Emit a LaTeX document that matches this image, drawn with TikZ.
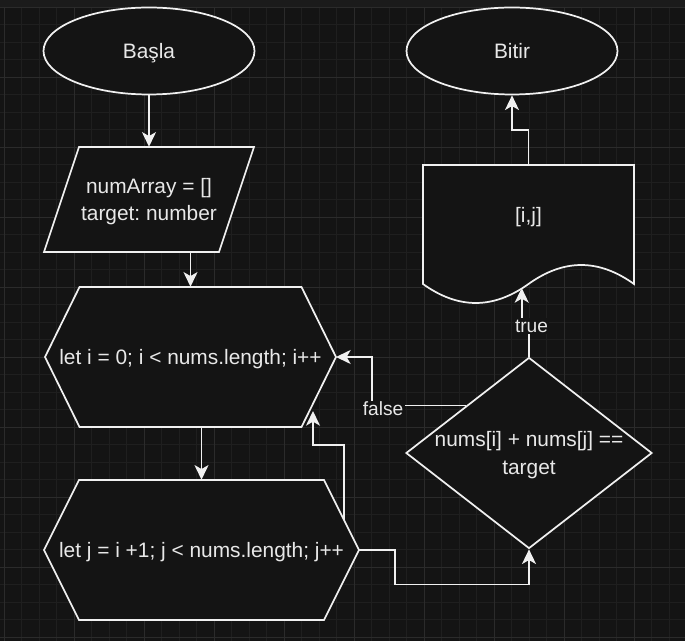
\documentclass[tikz,border=0pt]{standalone}
\usepackage{fontspec}
\setmainfont{Liberation Sans}
\frenchspacing
\usetikzlibrary{arrows.meta,shapes.geometric,calc,backgrounds}
\pgfdeclarelayer{shapes}
\pgfsetlayers{background,shapes,main}
\definecolor{canvas}{HTML}{141414}
\definecolor{ink}{HTML}{F0F0F0}
\definecolor{inktext}{HTML}{E8E8E8}
\definecolor{gridfine}{HTML}{1F1F1F}
\definecolor{gridmajor}{HTML}{2B2B2B}
\definecolor{topbar}{HTML}{1B1B1B}
\newcommand{\mainfs}{\fontsize{15.66pt}{20.5pt}\selectfont}
\newcommand{\lblfs}{\fontsize{14.36pt}{17pt}\selectfont}
\tikzset{
  shapeline/.style={draw=ink, line width=1.3pt, fill=canvas},
  flow/.style={-{Stealth[length=11pt, width=10.5pt, inset=3pt]}, draw=ink, line width=1.3pt},
}

\begin{document}
\begin{tikzpicture}[x=0.75pt, y=-0.75pt,
  term/.style={ellipse, shapeline, minimum width=158.25pt, minimum height=65.25pt,
               inner sep=0pt, text depth=0pt, font=\mainfs, text=inktext},
  body/.style={rectangle, inner sep=0pt, text depth=0pt, align=center, font=\mainfs, text=inktext},
  decision/.style={diamond, shapeline, minimum width=184.5pt, minimum height=143.25pt, inner sep=0pt},
  edgelbl/.style={fill=canvas, inner sep=1pt, font=\lblfs, text=inktext},
]
\useasboundingbox (0,0) rectangle (685,641);
% canvas and grid
\begin{scope}[on background layer]
  \fill[canvas] (0,0) rectangle (685,641);
  \fill[topbar] (0,0) rectangle (685,7.3);
  \foreach \k in {0,...,38} \draw[gridfine, line width=0.6pt] ({4.3+17.5*\k},7.3) -- ({4.3+17.5*\k},641);
  \foreach \k in {0,...,36} \draw[gridfine, line width=0.6pt] (0,{7.3+17.5*\k}) -- (685,{7.3+17.5*\k});
  \foreach \k in {0,...,9} \draw[gridmajor, line width=0.7pt] ({4.3+70*\k},7.3) -- ({4.3+70*\k},641);
  \foreach \k in {0,...,9} \draw[gridmajor, line width=0.7pt] (0,{7.3+70*\k}) -- (685,{7.3+70*\k});
\end{scope}
% terminals
\node[term] at (149,51) (start) {Başla};
\node[term] at (512,51) (stop) {Bitir};
% input, loops, result
\node[body, minimum width=131.25pt, minimum height=78.75pt] at (149,199.5) (input) {numArray = []\\target: number};
\node[body, minimum height=105pt] at (190.5,357) (loopi) {let i = 0; i < nums.length; i++};
\node[body, minimum height=105pt] at (201.5,550) (loopj) {let j = i +1; j < nums.length; j++};
\node[body, minimum height=75pt] at (528.5,215) (res) {[i,j]};
% decision
\node[decision] at (529,453) (cond) {};
\node[body] at (cond) (condtxt) {nums[i] + nums[j] ==\\target};
% outlines
\begin{pgfonlayer}{shapes}
  \draw[shapeline] ($(input)+(-70,-52.5)$) -- ($(input)+(105,-52.5)$) -- ($(input)+(70,52.5)$)
    -- ($(input)+(-105,52.5)$) -- cycle;
  \foreach \h/\w/\p in {loopi/111/34.5, loopj/122.5/35}
    \draw[shapeline] ($(\h)+(-\w,-70)$) -- ($(\h)+(\w,-70)$) -- ($(\h)+({\w+\p},0)$)
      -- ($(\h)+(\w,70)$) -- ($(\h)+(-\w,70)$) -- ($(\h)+({-\w-\p},0)$) -- cycle;
  \draw[shapeline] ($(res)+(-105.5,-50)$) -- ($(res)+(105.5,-50)$) -- ($(res)+(105.5,69)$)
    .. controls +(-35.3,-25.3) and +(35.3,-25.3) .. ($(res)+(0,69)$)
    .. controls +(-35.2,25.3) and +(35.2,25.3) .. ($(res)+(-105.5,69)$) -- cycle;
\end{pgfonlayer}
% connector ends
\coordinate (loopieast) at ($(loopi)+(145.5,0)$);
\coordinate (loopjeast) at ($(loopj)+(157.5,0)$);
\coordinate (jback) at ($(loopj)+(142.5,-30)$);
\coordinate (iback) at ($(loopi)+(122.5,54)$);
\coordinate (resin) at ($(res)+(-6.8,73)$);
\coordinate (fbend) at (372,406);
% flows
\draw[flow] (start.south) -- (input.north);
\draw[flow] (loopi.north |- input.south) -- (loopi.north);
\draw[flow] (loopj.north |- loopi.south) -- (loopj.north);
\draw[flow] (jback) -- ++(0,-75) -| (iback);
\draw[flow] (loopjeast) -- ++(36,0) |- ($(cond.south)+(0,35)$) -- (cond.south);
\draw[flow] (cond.143) -- (cond.143 -| fbend) |- (loopieast);
\draw[flow] (cond.north) -- ++(0,-32) -| (resin);
\draw[flow] (res.north) -- ++(0,-35) -| (stop.south);
% edge labels
\node[edgelbl] at (383,409) (flbl) {false};
\node[edgelbl] at (531.5,326) (tlbl) {true};
\end{tikzpicture}
\end{document}
